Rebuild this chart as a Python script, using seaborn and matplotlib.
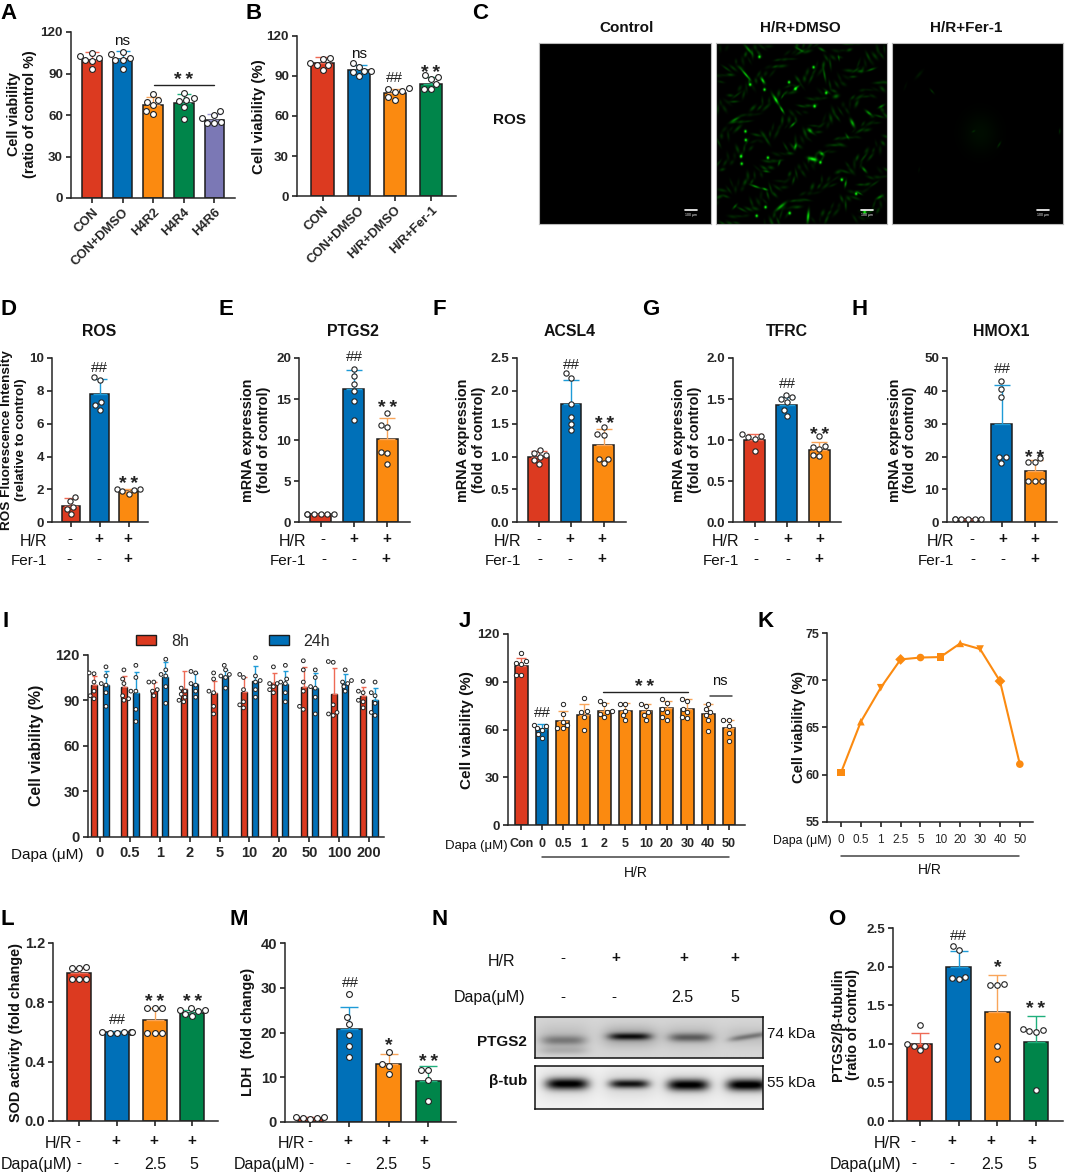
import warnings
import numpy as np
import pandas as pd
import matplotlib
matplotlib.use("Agg")
import matplotlib.pyplot as plt
from matplotlib.patches import Patch
import seaborn as sns

warnings.filterwarnings("ignore")
sns.set_style("ticks")
plt.rcParams['font.family'] = ['Liberation Sans', 'DejaVu Sans']
plt.rcParams['axes.linewidth'] = 1.1

W, H = 1065, 1173
fig = plt.figure(figsize=(W/100, H/100), dpi=100, facecolor='white')

RED, BLUE, ORANGE, GREEN, PURPLE = '#DC3A20', '#0070B8', '#FB8A10', '#00854A', '#7B78B5'
ERR = {RED: '#EE6A55', BLUE: '#1E9BD7', ORANGE: '#F9A55A', GREEN: '#1FAF7C', PURPLE: '#9A98D0'}
DARK = '#1c1c1c'

# ---------- data ----------
a_cats = ['CON', 'CON+DMSO', 'H4R2', 'H4R4', 'H4R6']
a_mean = [100, 100.5, 67.5, 68.5, 56.5]
a_err = [5.5, 5.5, 5.5, 7, 4.5]
a_pts = [[105, 103, 101, 99, 99.5, 93], [105.5, 104, 101, 100, 100, 93], [75, 71, 69.5, 67, 63, 61],
         [76, 72, 71, 70, 66, 57], [63, 60, 58, 55, 54.5, 54]]
b_cats = ['CON', 'CON+DMSO', 'H/R+DMSO', 'H/R+Fer-1']
b_mean = [100, 94.5, 77, 84]
b_err = [4, 4, 3, 5]
b_pts = [[103.5, 103, 100, 98, 98, 94.5], [100, 97, 94, 93.5, 93, 90], [81, 80, 79, 78, 74, 72], [91, 89, 88, 84, 80, 80]]

fer_cats = ['Control', 'H/R', 'H/R+Fer-1']
d_mean = [1.0, 7.8, 1.9]
d_err = [0.45, 0.9, 0.1]
d_pts = [[1.55, 1.3, 0.95, 0.8, 0.5], [8.85, 8.65, 7.35, 7.15, 6.85], [2.05, 2.0, 1.95, 1.9, 1.75]]
e_mean = [1.0, 16.2, 10.2]
e_err = [0.05, 2.4, 2.5]
e_pts = [[1, 1, 1, 1, 1, 1], [18.7, 17.8, 16.8, 16, 14.8, 12.4], [13.3, 11.9, 11.6, 8.5, 8.4, 7.1]]
f_mean = [1.0, 1.8, 1.17]
f_err = [0.08, 0.37, 0.25]
f_pts = [[1.1, 1.05, 1.03, 1.0, 0.95, 0.88], [2.27, 2.2, 1.8, 1.6, 1.5, 1.4], [1.45, 1.35, 1.33, 0.97, 0.97, 0.9]]
g_mean = [1.0, 1.43, 0.88]
g_err = [0.08, 0.1, 0.1]
g_pts = [[1.08, 1.05, 1.04, 1.02, 0.87], [1.55, 1.52, 1.5, 1.47, 1.37, 1.3], [1.05, 0.93, 0.92, 0.89, 0.82, 0.81]]
h_mean = [1.0, 30, 15.5]
h_err = [0.1, 11.7, 3.5]
h_pts = [[1, 1, 1, 1, 1, 1], [43, 40.5, 38, 20, 19.8, 18], [19.5, 18.5, 18.2, 12.5, 12.5, 12.5]]

i_cats = ['0', '0.5', '1', '2', '5', '10', '20', '50', '100', '200']
i_mean_8 = [100, 98.5, 97, 97.5, 95, 95.5, 101.5, 99, 94, 93]
i_mean_24 = [100, 95, 105, 101, 106, 103, 100.5, 98, 101.5, 90]
i_err_8 = [6, 7.5, 5, 11.5, 8, 9.5, 6.5, 13, 17, 6]
i_err_24 = [9, 13.5, 10, 7, 4, 9.5, 8.5, 10, 5.5, 8]
i_pts_8 = [[108, 107.5, 102, 96, 93, 91], [110, 104, 101, 93, 91, 90], [102, 102, 97, 96, 93],
           [98, 96, 94, 92, 90, 89], [108, 104, 96, 95, 86, 81], [107, 105, 97, 89, 87, 85],
           [112, 101, 101, 99, 97, 95], [116, 110, 102, 96, 86, 84], [115, 115.5, 87, 82, 81, 80],
           [102.5, 96, 95, 90, 89, 85]]
i_pts_24 = [[112, 106, 101, 100, 95, 86], [113, 105, 96, 96, 84, 76], [117, 110, 107, 106, 99, 88],
            [109, 108, 101, 100, 96, 92], [113, 110, 107, 106, 105, 98], [118, 106, 103, 102, 97, 92],
            [113, 104, 102, 101, 95, 89], [110, 105, 99, 98, 92, 81], [110, 103, 102, 101, 99, 96],
            [102, 95, 93, 88, 82, 80]]

j_cats = ['Con', '0', '0.5', '1', '2', '5', '10', '20', '30', '40', '50']
j_mean = [100, 60.5, 65.5, 69, 72, 72, 72, 73.5, 73, 70, 61]
j_err = [5, 3, 6, 7, 4.5, 4.5, 4, 4.5, 6, 6, 5]
j_pts = [[108, 103, 102, 101, 94, 94], [63, 62, 61, 60, 57, 55], [76, 70, 65, 63, 61, 61], [80, 72, 71, 68, 60],
         [78, 76, 72, 71, 70, 68], [76, 76, 72, 69, 66], [76, 75, 71, 69, 66], [79, 77, 73, 71, 68, 66],
         [79, 78, 73, 71, 68, 67], [76, 73, 71, 69, 66, 59], [66, 66, 62, 58, 53]]

k_cats = ['0', '0.5', '1', '2.5', '5', '10', '20', '30', '40', '50']
k_vals = [60.2, 65.6, 69.2, 72.2, 72.4, 72.45, 73.9, 73.3, 69.9, 61.1]
k_marks = ['s', '^', 'v', 'D', 'o', 's', '^', 'v', 'D', 'o']

dapa_cats = ['Control', 'H/R', 'H/R+Dapa 2.5', 'H/R+Dapa 5']
l_mean = [1.0, 0.6, 0.68, 0.73]
l_err = [0.03, 0.01, 0.08, 0.02]
l_pts = [[1.04, 1.03, 1.03, 0.96, 0.96, 0.96], [0.6, 0.6, 0.6, 0.595, 0.59, 0.6], [0.76, 0.76, 0.76, 0.595, 0.59, 0.59],
         [0.76, 0.75, 0.75, 0.74, 0.72, 0.71]]
m_mean = [0.8, 20.8, 12.9, 9.2]
m_err = [0.2, 5, 2.2, 3.4]
m_pts = [[1, 1.1, 0.9, 0.6, 0.9], [28.7, 23.5, 22, 19.5, 17, 14.5], [15.7, 13, 12.6, 10.6], [11.7, 11.5, 9.3, 4.7]]
o_mean = [1.0, 2.0, 1.42, 1.02]
o_err = [0.14, 0.21, 0.48, 0.34]
o_pts = [[1.25, 1.0, 0.97, 0.97, 0.92], [2.27, 2.22, 1.87, 1.85, 1.84], [1.78, 1.77, 1.76, 0.97, 0.8],
         [1.19, 1.18, 1.17, 1.16, 0.4]]

# ---------- helpers ----------
def axpx(x0, ytop, x1, ybot):
    return fig.add_axes([x0/W, 1-ybot/H, (x1-x0)/W, (ybot-ytop)/H])

def T(x, y, s, size=10, weight='normal', ha='center', rot=0, color='#111111', shift=0.36, **kw):
    """y is the visual centre of the text in pixels."""
    if rot == 0:
        yb = y + shift*size*100/72
        return fig.text(x/W, 1-yb/H, s, fontsize=size, fontweight=weight, ha=ha, va='baseline', color=color, **kw)
    return fig.text(x/W, 1-y/H, s, fontsize=size, fontweight=weight, ha='center', va='center', rotation=rot,
                    color=color, linespacing=1.12, **kw)

def stars(x, y, s='*\u2009*', size=14):
    T(x, y, s, size=size, weight='bold', shift=0.56, color='#222222')

def sharps(x, y):
    T(x, y, '##', size=11, shift=0.35, color='#222222')

def hline(x0, x1, y, lw=1.0, c='#222222'):
    fig.add_artist(plt.Line2D([x0/W, x1/W], [1-y/H, 1-y/H], color=c, lw=lw))

def style(ax, yticks, ysize=9.6):
    sns.despine(ax=ax)
    ax.set_yticks(yticks)
    ax.set_xlabel(''); ax.set_ylabel('')
    ax.tick_params(axis='both', length=3.8, width=1.1, color='#111111', pad=2)
    ax.tick_params(axis='y', labelsize=ysize)
    ax.patch.set_alpha(0)

def panel(box, ymax, yticks, ylabels, cats, means, errs, pts, colors, centers, barw, psize=4.2, ysize=9.6, plw=0.8):
    x0, ytop, x1, ybot = box
    ax = axpx(*box)
    s = (centers[-1]-centers[0])/(len(centers)-1)
    sns.barplot(x=cats, y=means, hue=cats, order=cats, hue_order=cats, palette=colors, saturation=1, legend=False,
                errorbar=None, width=barw/s, edgecolor=DARK, linewidth=1.1, ax=ax)
    for i, (m, e, c) in enumerate(zip(means, errs, colors)):
        ax.errorbar([i], [m], yerr=[[0], [e]], ecolor=ERR[c], elinewidth=1.0, capsize=barw*0.27, capthick=1.0,
                    fmt='none', zorder=3)
    xs = [cats[i] for i, p in enumerate(pts) for _ in p]
    ys = [v for p in pts for v in p]
    sns.swarmplot(x=xs, y=ys, order=cats, color='white', edgecolor='#222222', linewidth=plw, size=psize, ax=ax, zorder=5)
    for c in ax.collections:
        c.set_clip_on(False)
    ax.set_xlim((x0-centers[0])/s, (x1-centers[0])/s)
    ax.set_ylim(0, ymax)
    style(ax, yticks, ysize)
    ax.set_yticklabels(ylabels, fontweight='bold')
    ax.set_xticks(range(len(cats)))
    ax.set_xticklabels([])
    return ax

def signrows(lab1, lab2, right, y1, y2, xs1, s1, xs2, s2, size=11.5):
    T(right, y1+1, lab1, size=size, ha='right')
    T(right, y2, lab2, size=size if lab2 != 'Fer-1' else 11, ha='right')
    for x, s in zip(xs1, s1):
        T(x, y1-1, s, size=11, weight='bold' if s == '+' else 'normal', shift=0.3)
    for x, s in zip(xs2, s2):
        T(x, y2-1 if s in '+-' else y2, s, size=11.5 if s not in '+-' else 11, weight='bold' if s == '+' else 'normal',
          shift=0.3 if s in '+-' else 0.36)

# ---------- A ----------
ax = panel((71, 32, 235, 198), 120, [0, 30, 60, 90, 120], [0, 30, 60, 90, 120], a_cats, a_mean, a_err, a_pts,
           [RED, BLUE, ORANGE, GREEN, PURPLE], [92, 122.4, 153, 183.6, 214.3], 19.6)
ax.set_xticklabels(a_cats, rotation=45, ha='right', rotation_mode='anchor', fontsize=9.4, fontweight='bold')
T(22, 114, 'Cell viability\n(ratio of control %)', size=10.4, weight='bold', rot=90)
T(122.4, 41.7, 'ns', size=11, shift=0.2)
stars(184, 74)
hline(153.8, 214.3, 85)

# ---------- B ----------
ax = panel((297, 36, 456, 196), 120, [0, 30, 60, 90, 120], [0, 30, 60, 90, 120], b_cats, b_mean, b_err, b_pts,
           [RED, BLUE, ORANGE, GREEN], [322.5, 358.7, 394.5, 431], 22.3)
ax.set_xticklabels(b_cats, rotation=45, ha='right', rotation_mode='anchor', fontsize=9.4, fontweight='bold')
T(258.6, 116.7, 'Cell viability (%)', size=10.8, weight='bold', rot=90)
T(358.7, 55, 'ns', size=11, shift=0.2)
sharps(394.5, 77)
stars(431, 67)

# ---------- C : micrographs (approximation of photographs) ----------
bright_dots = [(672,172),(831,203),(759,248),(687,270),(778,268),(868,280),(834,320),(645,255),(631,395),(632,421),
               (618,470),(620,492),(697,474),(851,488),(914,540),(956,582),(690,622),(761,640),(664,648),(981,637)]
bright_cells = [(640,150,50,26,5,.5),(632,225,50,30,4,.8),(682,243,55,16,5,.7),(720,300,60,24,5,.9),(738,330,60,18,4,.8),
                (770,375,-45,16,4,.6),(778,440,-75,14,5,.7),(828,478,15,20,7,1.),(855,462,40,12,6,.7),(820,392,40,12,7,.6),
                (945,370,65,20,6,.7),(993,340,40,18,5,.6),(897,290,-20,14,8,.4),(1000,210,-20,20,4,.4),(968,215,0,14,6,.3),
                (1030,320,-30,15,4,.5),(735,620,-40,28,6,.7),(815,650,-85,28,5,.9),(660,560,20,22,4,.6),(688,568,20,12,4,.7),
                (925,552,-80,16,4,.6),(1025,592,-30,16,5,.5),(980,510,50,16,5,.5),(600,360,-30,24,5,.5),(692,515,10,14,4,.4),
                (730,490,-70,12,4,.4),(780,265,-40,16,4,.6),(740,290,-60,12,3,.4),(863,225,80,30,4,.4),(855,150,30,16,5,.4),
                (905,175,80,12,3,.4),(790,150,30,20,4,.4),(600,620,-50,14,4,.4),(965,580,30,14,3,.5),(930,410,60,14,4,.35)]
faint_cells = [(1178,275,50,14,3,.22),(1140,225,-50,25,6,.1),(1375,435,-60,15,3,.2),(1300,395,-30,8,3,.16),
               (1553,395,-85,12,3,.18),(1320,400,0,80,80,.05),(1100,260,-70,20,4,.05),(1140,510,-80,12,3,.06)]

def gauss_img(w, h, cells, power=2):
    gy, gx = np.mgrid[0:h, 0:w]
    img = np.zeros((h, w))
    for x, y, ang, l, wd, amp in cells:
        t = np.deg2rad(ang)
        dx, dy = gx-x, gy-y
        u = dx*np.cos(t)+dy*np.sin(t)
        v = -dx*np.sin(t)+dy*np.cos(t)
        img += amp*np.exp(-np.abs(u/(l*0.6))**power-(v/(wd*0.7))**2)
    return img

def shift_cells(cells, dx, dy):
    return [(c[0]-dx, c[1]-dy)+tuple(c[2:]) for c in cells]

# background texture of dim cells: a golden-ratio lattice across the photograph
phi = 0.6180339887
tex = []
for k in range(320):
    fx, fy = (k*phi) % 1, (k*0.7548776662) % 1
    ang = 70*np.sin(11*fx+7*fy) + 60*np.cos(17*fy-5*fx)
    tex.append((545+502*fx, 128+545*fy, ang, 12+12*((k*0.37) % 1), 4+3*((k*0.21) % 1), 0.07+0.2*((k*0.43) % 1)))
img2 = gauss_img(502, 545, shift_cells(bright_cells+tex+[(x, y, 0, 6, 6, 1.1) for x, y in bright_dots], 545, 128))
img3 = gauss_img(502, 545, shift_cells(faint_cells, 1061, 128))
img1 = np.zeros((545, 502))
def green(im):
    g = np.clip(im, 0, 1)
    return np.dstack([0.08*g**3, g, 0.08*g**3])

boxes = [(539, 711), (716, 887), (892, 1063)]
for (x0, x1), im, title, cx in zip(boxes, [img1, img2, img3], ['Control', 'H/R+DMSO', 'H/R+Fer-1'], [626.5, 800, 966]):
    ax = axpx(x0, 42.7, x1, 224)
    ax.imshow(green(im), aspect='auto', interpolation='bilinear')
    ax.set_xticks([]); ax.set_yticks([])
    for s in ax.spines.values():
        s.set_color('#bbbbbb'); s.set_linewidth(0.8)
    ax.plot([425, 460], [502, 502], color='white', lw=1.2)
    ax.text(442, 517, '100 μm', color='white', fontsize=2.5, ha='center', va='center')
    T(cx, 27, title, size=11, weight='bold')
T(510, 119, 'ROS', size=11, weight='bold')

# ---------- D-H ----------
ytop, ybot = 358, 522.3
ax = panel((52.4, ytop, 148, ybot), 10, [0, 2, 4, 6, 8, 10], [0, 2, 4, 6, 8, 10], fer_cats, d_mean, d_err, d_pts,
           [RED, BLUE, ORANGE], [71, 99.7, 128.5], 18.6, psize=3.8)
T(14, 440, 'ROS Fluorescence Intensity\n(relative to control)', size=9.7, weight='bold', rot=90)
sharps(99.7, 366.7); stars(128.5, 477.7)
T(99, 330, 'ROS', size=11.4, weight='bold')
signrows('H/R', 'Fer-1', 47, 539, 559.5, [70, 98.7, 127.8], '-++', [69.3, 98.7, 127.5], '--+')

ax = panel((299, ytop, 410, ybot), 20, [0, 5, 10, 15, 20], [0, 5, 10, 15, 20], fer_cats, e_mean, e_err, e_pts,
           [RED, BLUE, ORANGE], [320.5, 354.3, 387.4], 21, psize=3.8)
T(256, 440, 'mRNA expression\n(fold of control)', size=10.4, weight='bold', rot=90)
sharps(354.3, 355.7); stars(387.4, 401.7)
T(353, 330, 'PTGS2', size=11.4, weight='bold')
signrows('H/R', 'Fer-1', 306, 539, 559.5, [323, 354, 387], '-++', [324, 354, 386], '--+')

ax = panel((517, ytop, 625.5, ybot), 2.5, [0, .5, 1, 1.5, 2, 2.5], ['0.0', '0.5', '1.0', '1.5', '2.0', '2.5'], fer_cats,
           f_mean, f_err, f_pts, [RED, BLUE, ORANGE], [538.6, 571, 603.7], 20.5, psize=3.8)
T(471, 440, 'mRNA expression\n(fold of control)', size=10.4, weight='bold', rot=90)
sharps(571, 364); stars(604.4, 418)
T(570, 330, 'ACSL4', size=11.4, weight='bold')
signrows('H/R', 'Fer-1', 521.6, 539, 559.5, [538.5, 570, 602], '-++', [539.5, 570, 602], '--+')

ax = panel((733, ytop, 841, ybot), 2.0, [0, .5, 1, 1.5, 2], ['0.0', '0.5', '1.0', '1.5', '2.0'], fer_cats,
           g_mean, g_err, g_pts, [RED, BLUE, ORANGE], [754.5, 787, 819.3], 21, psize=3.8)
T(687, 440, 'mRNA expression\n(fold of control)', size=10.4, weight='bold', rot=90)
sharps(787, 383); stars(820, 429)
T(786.6, 330, 'TFRC', size=11.4, weight='bold')
signrows('H/R', 'Fer-1', 738.8, 539, 559.5, [756, 787.6, 820], '-++', [756, 787.6, 819], '--+')

ax = panel((947, ytop, 1057, ybot), 50, [0, 10, 20, 30, 40, 50], [0, 10, 20, 30, 40, 50], fer_cats,
           h_mean, h_err, h_pts, [RED, BLUE, ORANGE], [968, 1002, 1035], 21, psize=3.8)
T(902.5, 440, 'mRNA expression\n(fold of control)', size=10.4, weight='bold', rot=90)
sharps(1002, 368); stars(1035, 451.7)
T(1001, 330, 'HMOX1', size=11.4, weight='bold')
signrows('H/R', 'Fer-1', 954, 539, 559.5, [972, 1002.5, 1035], '-++', [972.5, 1002.5, 1035], '--+')

# ---------- I ----------
ax = axpx(88, 654.7, 384, 837)
i_df = pd.DataFrame({'Dapa': i_cats*2, 'v': i_mean_8+i_mean_24, 'Time': ['8h']*10+['24h']*10})
sns.barplot(data=i_df, x='Dapa', y='v', hue='Time', hue_order=['8h', '24h'], palette=[RED, BLUE], saturation=1, legend=False,
            errorbar=None, width=0.76, gap=0.47, edgecolor=DARK, linewidth=1.0, ax=ax)
for off, ms, es, c in [(-0.19, i_mean_8, i_err_8, RED), (0.19, i_mean_24, i_err_24, BLUE)]:
    ax.errorbar(np.arange(10)+off, ms, yerr=[np.zeros(10), es], ecolor=ERR[c], elinewidth=1.0, capsize=1.8, capthick=1.0,
                fmt='none', zorder=3)
pl = [(i_cats[i], v, '8h') for i, p in enumerate(i_pts_8) for v in p] + [(i_cats[i], v, '24h') for i, p in enumerate(i_pts_24) for v in p]
pdf = pd.DataFrame(pl, columns=['Dapa', 'v', 'Time'])
sns.swarmplot(data=pdf, x='Dapa', y='v', hue='Time', hue_order=['8h', '24h'], order=i_cats, palette=['white', 'white'],
              dodge=True, legend=False, edgecolor='#222222', linewidth=0.7, size=2.7, ax=ax, zorder=5)
ax.set_xlim((88-100)/29.9, (384-100)/29.9)
ax.set_ylim(0, 120)
style(ax, [0, 30, 60, 90, 120], 10.5)
ax.set_yticklabels([0, 30, 60, 90, 120], fontweight='bold')
ax.set_xticks(range(10)); ax.set_xticklabels(i_cats, fontweight='bold', fontsize=10.5)
ax.tick_params(axis='x', pad=3)
T(37, 745, 'Cell viability (%)', size=11.4, weight='bold', rot=90)
T(47, 853, 'Dapa (μM)', size=11)
ax.legend(handles=[Patch(facecolor=RED, edgecolor=DARK, lw=1), Patch(facecolor=BLUE, edgecolor=DARK, lw=1)],
          labels=['8h', '24h'], ncol=2, frameon=False, loc='center', bbox_to_anchor=(233/W, 1-641.5/H),
          bbox_transform=fig.transFigure, fontsize=11.5, handlelength=1.25, handleheight=0.6, handletextpad=0.9,
          columnspacing=5.0)

# ---------- J ----------
j_centers = [521.3, 542, 562.8, 583.5, 604.2, 625, 646, 666.8, 687.5, 708, 729]
ax = panel((507.8, 634, 745, 825.3), 120, [0, 30, 60, 90, 120], [0, 30, 60, 90, 120], j_cats, j_mean, j_err, j_pts,
           [RED, BLUE]+[ORANGE]*9, j_centers, 12.8, psize=3.1, plw=0.7)
ax.set_xticklabels(j_cats, fontweight='bold', fontsize=9)
ax.tick_params(axis='x', pad=5)
T(467, 730, 'Cell viability (%)', size=11, weight='bold', rot=90)
T(476, 844, 'Dapa (μM)', size=9.5)
hline(542.4, 729, 856.7, lw=1.1, c='#444444')
T(636, 871.7, 'H/R', size=10)
sharps(542, 712)
stars(645, 681); hline(602.6, 687.5, 692.3)
T(720, 681.7, 'ns', size=10.5, shift=0.2); hline(710, 732, 695.7, lw=1.1, c='#444444')

# ---------- K ----------
ax = axpx(827.4, 633, 1033, 821.7)
sns.lineplot(x=k_cats, y=k_vals, color=ORANGE, lw=1.5, sort=False, errorbar=None, ax=ax)
sns.scatterplot(x=k_cats, y=k_vals, style=k_cats, markers=dict(zip(k_cats, k_marks)), color=ORANGE, s=30, linewidth=0,
                legend=False, ax=ax)
ax.set_xlim((827.4-841)/19.87, (1033-841)/19.87)
ax.set_ylim(55, 75)
style(ax, [55, 60, 65, 70, 75], 9)
ax.set_yticklabels([55, 60, 65, 70, 75], fontweight='bold')
ax.set_xticks(range(10)); ax.set_xticklabels(k_cats, fontsize=8.5)
ax.tick_params(axis='x', pad=5)
T(799, 727, 'Cell viability (%)', size=10.5, weight='bold', rot=90)
T(802, 840, 'Dapa (μM)', size=8.8)
hline(841, 1019, 855.7, lw=1.1, c='#444444')
T(930, 869, 'H/R', size=10)

# ---------- L ----------
ax = panel((53, 943, 218, 1121), 1.2, [0, .4, .8, 1.2], ['0.0', '0.4', '0.8', '1.2'], dapa_cats, l_mean, l_err, l_pts,
           [RED, BLUE, ORANGE, GREEN], [79, 117, 154.7, 192.3], 24, psize=4.2, ysize=10.5)
T(15.7, 1033, 'SOD activity (fold change)', size=10.4, weight='bold', rot=90)
sharps(117, 1019); stars(154.7, 996); stars(192.3, 996)
signrows('H/R', 'Dapa(μM)', 72.7, 1141, 1163, [78, 115.7, 153.7, 192], '-+++', [79, 116, 155, 194], ['-', '-', '2.5', '5'])

# ---------- M ----------
ax = panel((285, 943.3, 456, 1121.7), 40, [0, 10, 20, 30, 40], [0, 10, 20, 30, 40], dapa_cats, m_mean, m_err, m_pts,
           [RED, BLUE, ORANGE, GREEN], [310, 349.7, 389, 428.3], 25, psize=4.2, ysize=10.5)
T(248, 1032, 'LDH  (fold change)', size=10.4, weight='bold', rot=90)
sharps(350, 981.7); stars(389, 1039, '*'); stars(428.7, 1056)
signrows('H/R', 'Dapa(μM)', 305, 1141, 1163, [310, 347.7, 385.7, 424], '-+++', [311, 347.7, 386.7, 425.7], ['-', '-', '2.5', '5'])

# ---------- N : western blot (approximation of photograph) ----------
ptgs_bands = [(50, 24, 0, 65, 7, .30), (50, 34, 0, 70, 6, .14), (50, 20, 0, 80, 18, .10),
              (166, 20, 0, 62, 5, .62), (166, 20, 0, 82, 15, .22),
              (272, 21, 0, 62, 6, .38), (272, 20, 0, 80, 16, .13),
              (375, 20, -5, 58, 4, .30), (375, 20, 0, 72, 14, .10)]
tub_bands = [(56, 17, 0, 62, 8, .92), (165, 17, 0, 58, 6, .82), (268, 18, 0, 60, 8, .92), (372, 18, 0, 60, 8, .95),
             (56, 17, 0, 80, 20, .12), (165, 17, 0, 80, 20, .12), (268, 18, 0, 80, 20, .12), (372, 18, 0, 80, 20, .12)]
ax = axpx(535, 1016.7, 762.5, 1058.3)
im = 0.84 - gauss_img(400, 42, ptgs_bands, power=4)*0.95
ax.imshow(im, cmap='gray', vmin=0, vmax=1, aspect='auto', interpolation='bilinear')
ax.set_xticks([]); ax.set_yticks([])
for s in ax.spines.values():
    s.set_color('#111111'); s.set_linewidth(1.1)
ax = axpx(535, 1066, 762.5, 1108.7)
im = 0.95 - gauss_img(400, 42, tub_bands, power=4)*0.95
ax.imshow(im, cmap='gray', vmin=0, vmax=1, aspect='auto', interpolation='bilinear')
ax.set_xticks([]); ax.set_yticks([])
for s in ax.spines.values():
    s.set_color('#111111'); s.set_linewidth(1.1)
T(767, 1033, '74 kDa', size=11, ha='left')
T(767, 1081.7, '55 kDa', size=11, ha='left')
T(527, 1040, 'PTGS2', size=11, weight='bold', ha='right')
T(527, 1079, 'β-tub', size=11, weight='bold', ha='right')
T(501.6, 960, 'H/R', size=11.5)
T(525.5, 996, 'Dapa(μM)', size=11.5, ha='right')
for x, s in zip([563, 615.4, 684, 735], '-+++'):
    T(x, 957, s, size=11, weight='bold' if s == '+' else 'normal', shift=0.3)
for x, s in zip([563, 614, 682, 735], ['-', '-', '2.5', '5']):
    T(x, 996, s, size=11.5 if s != '-' else 11, shift=0.36)

# ---------- O ----------
ax = panel((893.4, 928.3, 1063, 1121), 2.5, [0, .5, 1, 1.5, 2, 2.5], ['0.0', '0.5', '1.0', '1.5', '2.0', '2.5'], dapa_cats,
           o_mean, o_err, o_pts, [RED, BLUE, ORANGE, GREEN], [919.6, 958.7, 997.5, 1036.3], 24.3, psize=4.0)
T(845.5, 1024.7, 'PTGS2/β-tubulin\n(ratio of control)', size=10.4, weight='bold', rot=90)
sharps(958, 935); stars(997.5, 960.7, '*'); stars(1036, 1003)
signrows('H/R', 'Dapa(μM)', 901.6, 1141, 1163, [912.8, 952, 991, 1032], '-+++', [914, 952, 992, 1032], ['-', '-', '2.5', '5'])

# ---------- panel letters ----------
letters = {'A': (9, 11), 'B': (254, 11), 'C': (480, 11), 'D': (8, 307), 'E': (226, 307), 'F': (439, 307), 'G': (651, 307),
           'H': (860, 307), 'I': (6, 619), 'J': (465, 619), 'K': (766, 619), 'L': (7, 917), 'M': (239, 917), 'N': (440, 917),
           'O': (837, 917)}
for k, (x, y) in letters.items():
    T(x, y, k, size=16, weight='bold', color='black')

fig.savefig('out.png', dpi=100, facecolor='white')
